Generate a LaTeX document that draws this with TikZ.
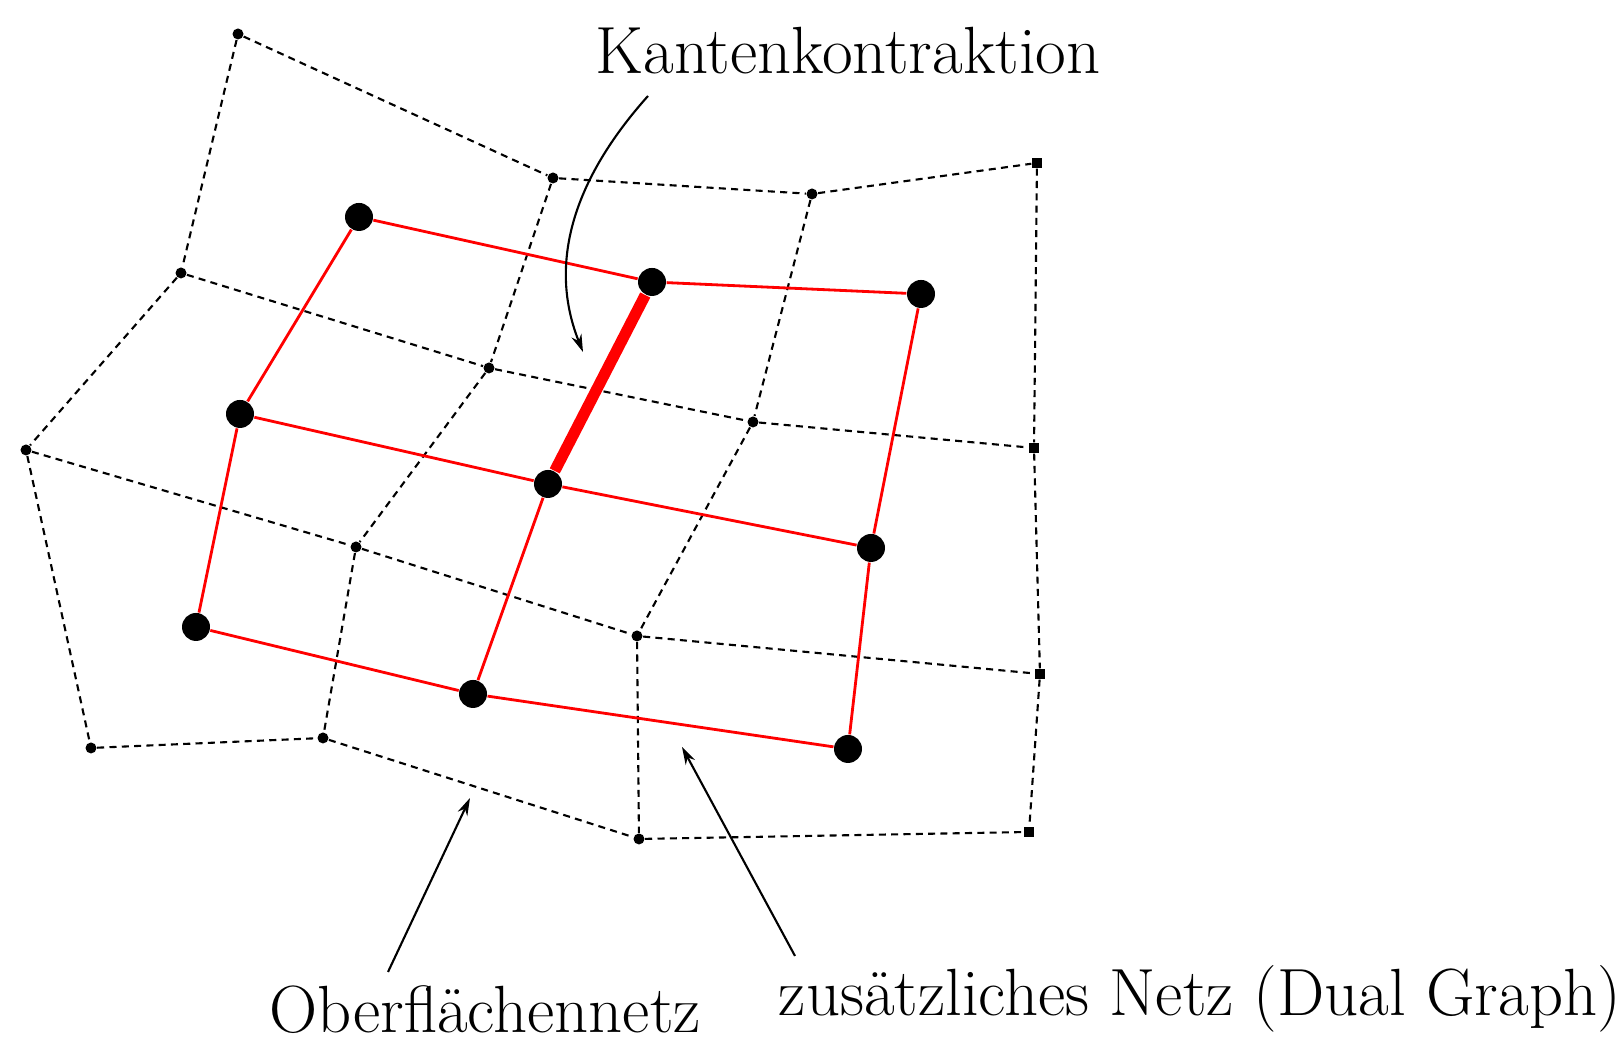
\documentclass[tikz,border=0pt]{standalone}
\usepackage{tikz}
\usetikzlibrary{arrows.meta}

\begin{document}
\begin{tikzpicture}[
    every node/.style={font=\fontsize{19}{22}\selectfont},
    mesh/.style={draw=black, line width=0.6pt, dash pattern=on 2pt off 1.5pt},
    dual/.style={draw=red, line width=0.8pt},
    mvert/.style={circle, fill=black, inner sep=0pt, minimum size=0.11cm},
    mcorner/.style={rectangle, fill=black, inner sep=0pt, minimum size=0.1cm},
    dvert/.style={circle, fill=black, inner sep=0pt, minimum size=0.28cm},
    pointer/.style={-{Stealth[length=5pt,width=3pt]}, line width=0.6pt}
]
\useasboundingbox (0,0) rectangle (16.21,10.52);

% Oberflaechennetz
\foreach \n/\x/\y in {s1/2.38/10.18, s2/5.53/8.74, s3/8.12/8.58,
    s5/1.81/7.79, s6/4.89/6.84, s7/7.53/6.30,
    s9/0.26/6.02, s10/3.56/5.05, s11/6.37/4.16,
    s13/0.91/3.04, s14/3.23/3.14, s15/6.39/2.13}
  \node[mvert] (\n) at (\x,\y) {};
\foreach \n/\x/\y in {s4/10.37/8.89, s8/10.34/6.04, s12/10.40/3.78, s16/10.29/2.20}
  \node[mcorner] (\n) at (\x,\y) {};

\draw[mesh] (s1) -- (s2) -- (s3) -- (s4);
\draw[mesh] (s5) -- (s6) -- (s7) -- (s8);
\draw[mesh] (s9) -- (s10) -- (s11) -- (s12);
\draw[mesh] (s13) -- (s14) -- (s15) -- (s16);
\draw[mesh] (s1) -- (s5) -- (s9) -- (s13);
\draw[mesh] (s2) -- (s6) -- (s10) -- (s14);
\draw[mesh] (s3) -- (s7) -- (s11) -- (s15);
\draw[mesh] (s4) -- (s8) -- (s12) -- (s16);

% Dual Graph
\foreach \n/\x/\y in {d1/3.59/8.35, d2/6.52/7.70, d3/9.21/7.58,
    d4/2.40/6.38, d5/5.48/5.68, d6/8.71/5.04,
    d7/1.96/4.25, d8/4.73/3.58, d9/8.48/3.03}
  \node[dvert] (\n) at (\x,\y) {};

\draw[dual] (d1) -- (d2) -- (d3) -- (d6) -- (d9) -- (d8) -- (d7) -- (d4) -- (d1);
\draw[dual] (d4) -- (d5) -- (d6);
\draw[dual] (d5) -- (d8);
\draw[dual, line width=3.2pt] (d2) -- (d5);

% Beschriftungen
\node[anchor=base] (kante) at (8.48,9.78) {Kantenkontraktion};
\node[anchor=base] (onetz) at (4.85,0.19) {Oberflächennetz};
\node[anchor=base] (dnetz) at (12.0,0.36) {zusätzliches Netz (Dual Graph)};

\coordinate (kantefrom) at (6.48,9.56);
\coordinate (kanteto) at (5.83,7.00);
\coordinate (onetzfrom) at (3.88,0.80);
\coordinate (onetzto) at (4.70,2.54);
\coordinate (dnetzfrom) at (7.95,0.96);
\coordinate (dnetzto) at (6.82,3.05);

\draw[pointer] (kantefrom) .. controls (5.8,8.8) and (5.45,7.95) .. (kanteto);
\draw[pointer] (onetzfrom) -- (onetzto);
\draw[pointer] (dnetzfrom) -- (dnetzto);
\end{tikzpicture}
\end{document}
